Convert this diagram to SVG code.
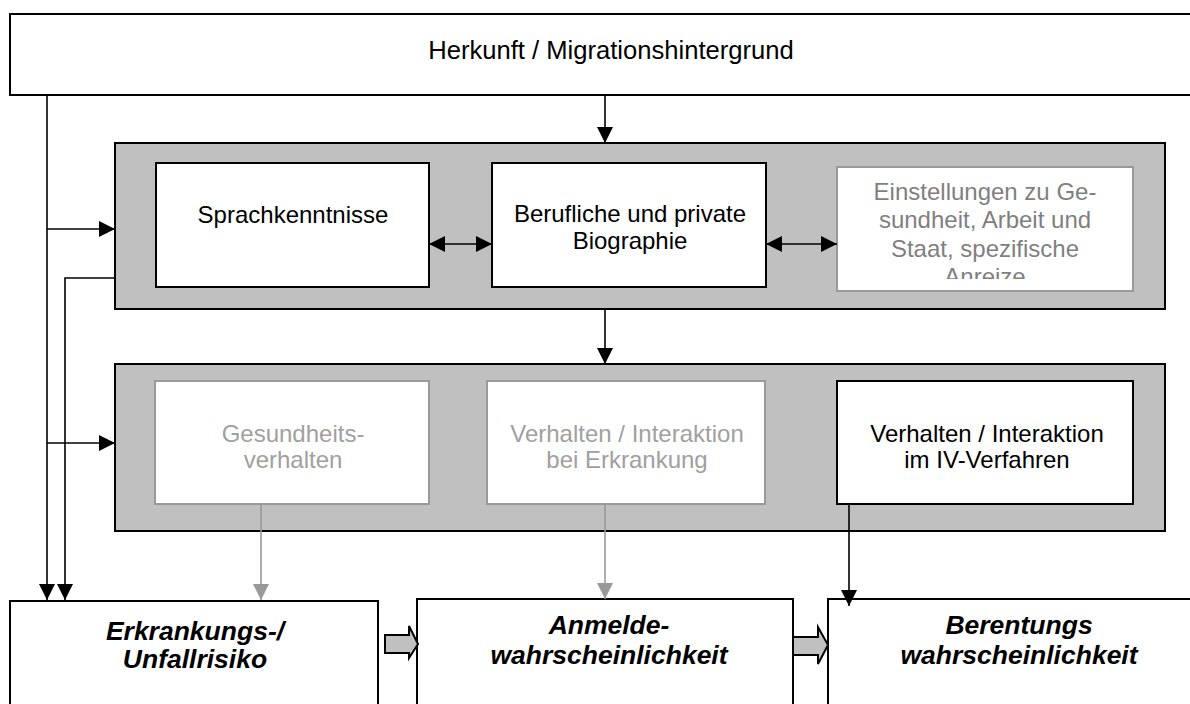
<svg xmlns="http://www.w3.org/2000/svg" width="1190" height="704" viewBox="0 0 1190 704">
<style>
.t{font-family:"Liberation Sans",Arial,sans-serif;font-size:24px;text-anchor:middle;fill:#000}
.h{font-size:25.6px}
.b{font-weight:bold;font-style:italic;font-size:26.5px}
.g1{fill:#7f7f7f}
.g2{fill:#a0a0a0}
.box{fill:#fff;stroke:#000;stroke-width:2}
.gbox{fill:#fff;stroke:#999;stroke-width:2}
.panel{fill:#c0c0c0;stroke:#000;stroke-width:2}
.c{fill:none;stroke:#000;stroke-width:1.6}
.cg{fill:none;stroke:#999;stroke-width:1.6}
.blk{fill:#c0c0c0;stroke:#000;stroke-width:2}
</style>
<defs>
<marker id="ag" viewBox="0 0 16 16" refX="16" refY="8" markerWidth="16" markerHeight="16" orient="auto" markerUnits="userSpaceOnUse"><path d="M0,0 L16,8 L0,16 z" fill="#999"/></marker>
<marker id="ak" viewBox="0 0 16 16" refX="16" refY="8" markerWidth="16" markerHeight="16" orient="auto-start-reverse" markerUnits="userSpaceOnUse"><path d="M0,0 L16,8 L0,16 z" fill="#000"/></marker>
<clipPath id="cl"><rect x="837" y="167" width="296" height="112"/></clipPath>
</defs>
<g id="herkunft"><rect class="box" x="10" y="14" width="1200" height="81"/><text class="t h" x="611" y="59">Herkunft / Migrationshintergrund</text></g>
<g id="panel1"><rect class="panel" x="115" y="143" width="1050" height="166"/></g>
<g id="sprach"><rect class="box" x="156" y="163" width="273" height="124"/><text class="t" x="293" y="223">Sprachkenntnisse</text></g>
<g id="biographie"><rect class="box" x="492" y="163" width="274" height="124"/><text class="t" x="630" y="222">Berufliche und private</text><text class="t" x="630" y="249">Biographie</text></g>
<g id="einstellungen"><rect class="gbox" x="837" y="167" width="296" height="124"/><g clip-path="url(#cl)"><text class="t g1" x="985" y="200">Einstellungen zu Ge-</text><text class="t g1" x="985" y="228">sundheit, Arbeit und</text><text class="t g1" x="985" y="257">Staat, spezifische</text><text class="t g1" x="985" y="285">Anreize</text></g></g>
<g id="panel2"><rect class="panel" x="115" y="364" width="1050" height="167"/></g>
<g id="gesundheit"><rect class="gbox" x="155" y="381" width="274" height="123"/><text class="t g2" x="293" y="442">Gesundheits-</text><text class="t g2" x="293" y="468">verhalten</text></g>
<g id="erkrankung"><rect class="gbox" x="487" y="381" width="278" height="123"/><text class="t g2" x="627" y="442">Verhalten / Interaktion</text><text class="t g2" x="627" y="468">bei Erkrankung</text></g>
<g id="ivverfahren"><rect class="box" x="837" y="381" width="296" height="123"/><text class="t" x="987" y="442">Verhalten / Interaktion</text><text class="t" x="987" y="468">im IV-Verfahren</text></g>
<g id="risiko"><rect class="box" x="10" y="601" width="368" height="120"/><text class="t b" x="195" y="640">Erkrankungs-/</text><text class="t b" x="195" y="668">Unfallrisiko</text></g>
<g id="anmelde"><rect class="box" x="417" y="599" width="376" height="120"/><text class="t b" x="609" y="634">Anmelde-</text><text class="t b" x="609" y="664">wahrscheinlichkeit</text></g>
<g id="berentung"><rect class="box" x="828" y="599" width="400" height="120"/><text class="t b" x="1019" y="634">Berentungs</text><text class="t b" x="1019" y="664">wahrscheinlichkeit</text></g>
<g id="connectors">
<path class="c" d="M605,95 V143" marker-end="url(#ak)"/>
<path class="c" d="M605,309 V364" marker-end="url(#ak)"/>
<path class="c" d="M47,95 V600" marker-end="url(#ak)"/>
<path class="c" d="M47,229 H115" marker-end="url(#ak)"/>
<path class="c" d="M47,443 H115" marker-end="url(#ak)"/>
<path class="c" d="M115,278 H65 V600" marker-end="url(#ak)"/>
<path class="c" d="M429,244 H492" marker-start="url(#ak)" marker-end="url(#ak)"/>
<path class="c" d="M766,244 H837" marker-start="url(#ak)" marker-end="url(#ak)"/>
<path class="cg" d="M261,504 V600" marker-end="url(#ag)"/>
<path class="cg" d="M605,504 V599" marker-end="url(#ag)"/>
<path class="c" d="M849,504 V606" marker-end="url(#ak)"/>
<path class="blk" d="M385,635 H409 V626 L418,644 L409,658 V653 H385 z"/>
<path class="blk" d="M793,637 H818 V627 L828,645 L818,664 V655 H793 z"/>
</g>
</svg>
